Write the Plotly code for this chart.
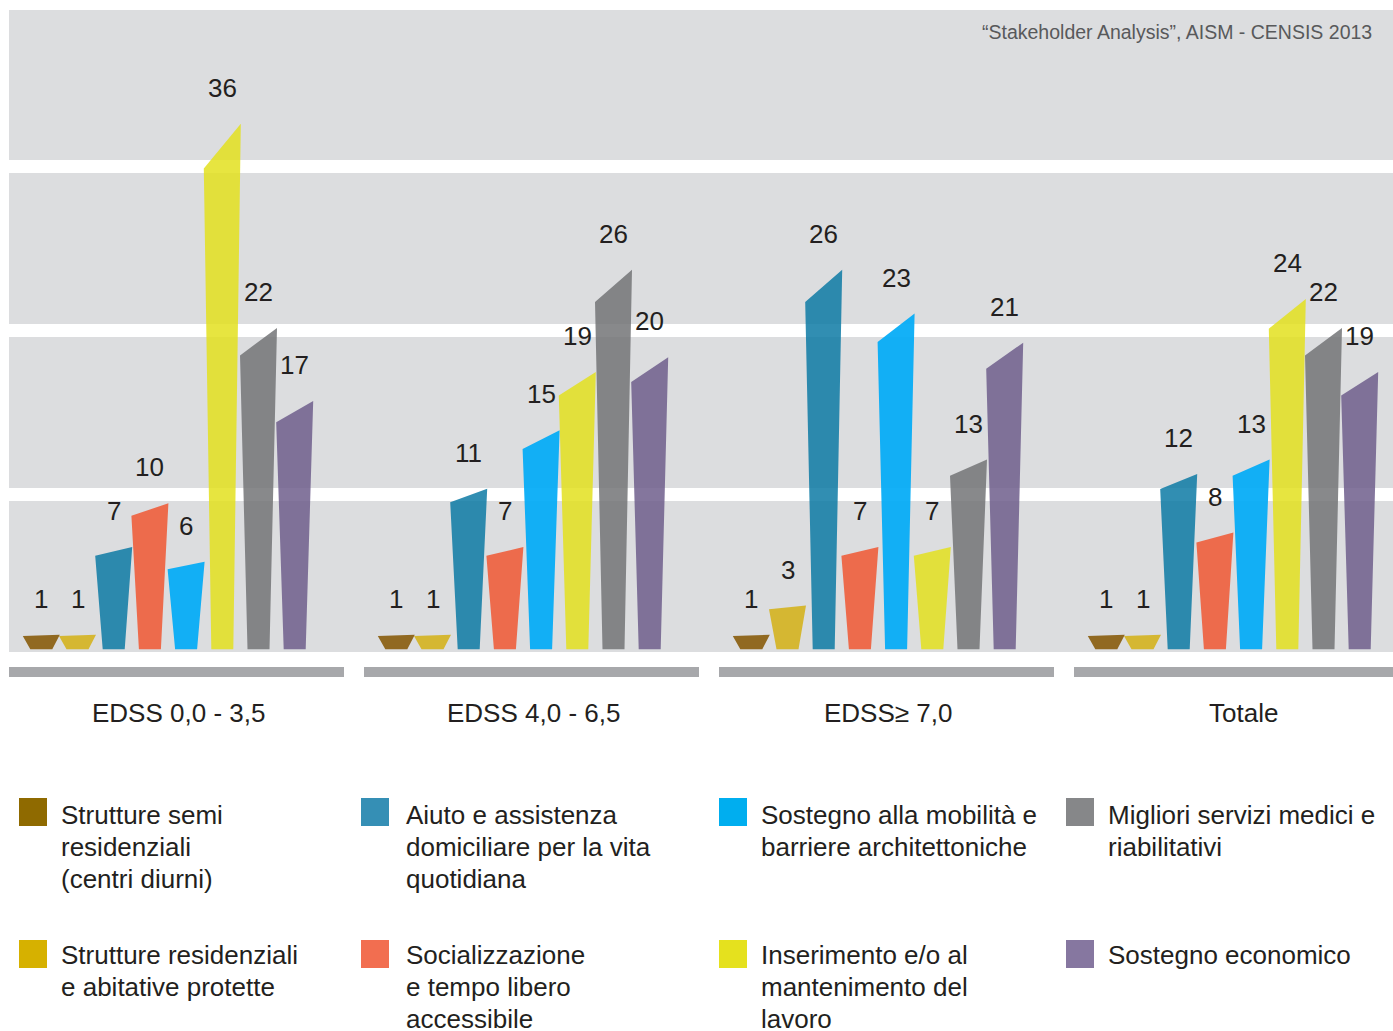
import plotly.graph_objects as go

# groups on the x axis
groups = ["EDSS 0,0 - 3,5", "EDSS 4,0 - 6,5", "EDSS\u2265 7,0", "Totale"]

# one list per series, values for each group
semi_residenziali = [1, 1, 1, 1]
residenziali = [1, 1, 3, 1]
aiuto_domiciliare = [7, 11, 26, 12]
socializzazione = [10, 7, 7, 8]
mobilita = [6, 15, 23, 13]
inserimento_lavoro = [36, 19, 7, 24]
servizi_medici = [22, 26, 13, 22]
sostegno_economico = [17, 20, 21, 19]

series_values = [semi_residenziali, residenziali, aiuto_domiciliare, socializzazione,
                 mobilita, inserimento_lavoro, servizi_medici, sostegno_economico]

series_names = [
    "Strutture semi<br>residenziali<br>(centri diurni)",
    "Strutture residenziali<br>e abitative protette",
    "Aiuto e assistenza<br>domiciliare per la vita<br>quotidiana",
    "Socializzazione<br>e tempo libero<br>accessibile",
    "Sostegno alla mobilità e<br>barriere architettoniche",
    "Inserimento e/o al<br>mantenimento del<br>lavoro",
    "Migliori servizi medici e<br>riabilitativi",
    "Sostegno economico",
]

bar_colors = ["rgba(132,85,0,0.85)", "rgba(212,176,20,0.85)", "rgba(13,122,165,0.85)",
              "rgba(240,87,51,0.85)", "rgba(0,170,246,0.92)", "rgba(227,225,31,0.85)",
              "rgba(115,116,119,0.85)", "rgba(110,94,140,0.85)"]
legend_colors = ["#8F6A00", "#D6B100", "#358FB5", "#F26E50",
                 "#00AEEF", "#E5E11E", "#868789", "#8677A0"]

W, H = 1393, 1031
TEXT = "#231F20"
FONT = "Liberation Sans, Arial, sans-serif"

# bar geometry, in x units where one group = 1
step = 36.2 / 355
top_half = 18.5 / 355
bottom_half = 11 / 355
slant = 0.915


def px_x(p):
    return p / W


def px_y(p):
    return 1 - p / H


fig = go.Figure()

n = len(series_values)
for i, vals in enumerate(series_values):
    xs, ys = [], []
    for g, v in enumerate(vals):
        cx = g + (i - (n - 1) / 2) * step
        xs += [cx - bottom_half, cx + bottom_half, cx + top_half, cx - top_half, cx - bottom_half, None]
        ys += [0, 0, v, v * slant, 0, None]
    fig.add_trace(go.Scatter(x=xs, y=ys, mode="lines", fill="toself",
                             fillcolor=bar_colors[i], line=dict(width=0),
                             name=series_names[i].replace("<br>", " "),
                             hoverinfo="name"))

annotations = []
for i, vals in enumerate(series_values):
    for g, v in enumerate(vals):
        cx = g + (i - (n - 1) / 2) * step
        annotations.append(dict(x=cx, y=v, xref="x", yref="y", text=str(v),
                                showarrow=False, yshift=36, yanchor="middle",
                                font=dict(family=FONT, size=26, color=TEXT)))

# group labels
for g, label in enumerate(groups):
    annotations.append(dict(x=g, y=px_y(713), xref="x", yref="paper", text=label,
                            showarrow=False, xshift=10, yanchor="middle",
                            font=dict(family=FONT, size=26, color=TEXT)))

# source
annotations.append(dict(x=px_x(1374), y=px_y(32), xref="paper", yref="paper",
                        text="\u201cStakeholder Analysis\u201d, AISM - CENSIS 2013",
                        showarrow=False, xanchor="right", yanchor="middle",
                        font=dict(family=FONT, size=19.5, color="#58595B")))

shapes = []
# background bands
for top, bottom in [(10, 160), (173, 324), (337, 488), (501, 652)]:
    shapes.append(dict(type="rect", xref="paper", yref="paper", layer="below",
                       x0=px_x(9), x1=1, y0=px_y(bottom), y1=px_y(top),
                       fillcolor="#DCDDDF", line=dict(width=0)))

# gray bars under each group
for g in range(len(groups)):
    shapes.append(dict(type="rect", xref="x", yref="paper", layer="below",
                       x0=g - 159 / 355, x1=min(g + 176 / 355, 3.4507),
                       y0=px_y(677), y1=px_y(667),
                       fillcolor="#A7A8AB", line=dict(width=0)))

# legend: two rows, four columns, one annotation per text line
sq_x = [19, 361, 719, 1066]
txt_x = [59, 404, 759, 1106]
row_top = [798, 940]
first_line = [16.5, 14.5]
line_gap = 32
for i, name in enumerate(series_names):
    c, r = i // 2, i % 2
    shapes.append(dict(type="rect", xref="paper", yref="paper",
                       x0=px_x(sq_x[c]), x1=px_x(sq_x[c] + 28),
                       y0=px_y(row_top[r] + 28), y1=px_y(row_top[r]),
                       fillcolor=legend_colors[i], line=dict(width=0)))
    for k, line in enumerate(name.split("<br>")):
        annotations.append(dict(x=px_x(txt_x[c]), y=px_y(row_top[r] + first_line[r] + k * line_gap),
                                xref="paper", yref="paper",
                                text=line, showarrow=False, xanchor="left", yanchor="middle",
                                font=dict(family=FONT, size=26, color=TEXT)))

fig.update_layout(
    width=W, height=H,
    margin=dict(l=0, r=0, t=0, b=0),
    paper_bgcolor="white",
    plot_bgcolor="rgba(0,0,0,0)",
    showlegend=False,
    xaxis=dict(range=[-168 / 355, (W - 168) / 355], visible=False, fixedrange=True),
    yaxis=dict(range=[(649.3 - H) / 14.6, 649.3 / 14.6], visible=False, fixedrange=True),
    shapes=shapes,
    annotations=annotations,
)

fig.write_html("out.html", config={"displayModeBar": False},
               post_script="document.body.style.margin='0';document.body.style.overflow='hidden';")
